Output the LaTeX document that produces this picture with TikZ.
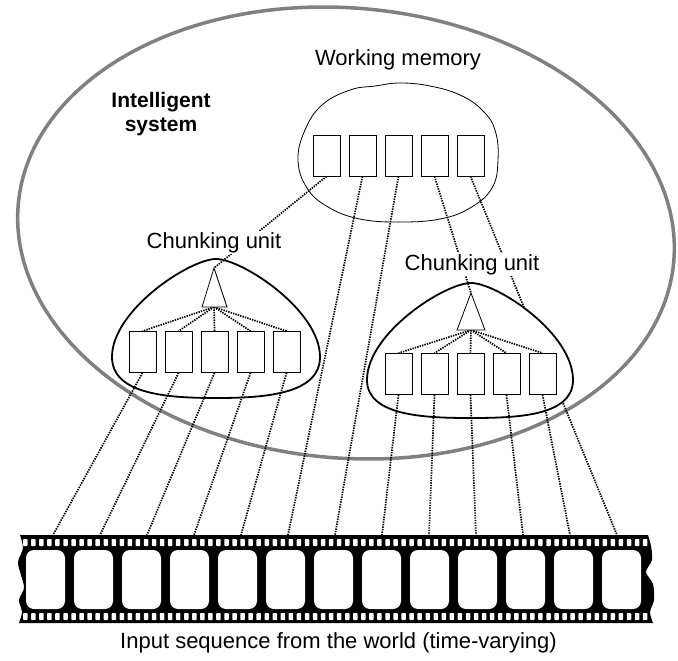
\documentclass[tikz,border=0pt]{standalone}
\usepackage{fontspec}
\setmainfont{Liberation Sans}
\usetikzlibrary{positioning}

\begin{document}
\begin{tikzpicture}[
    x=1pt, y=-1pt,
    node distance=8.2pt,
    cell/.style={rectangle, draw, fill=white, line width=0.8pt, minimum width=27pt, minimum height=41pt, inner sep=0pt},
    link/.style={line width=1.7pt, dash pattern=on 1.4pt off 1.1pt},
    caption/.style={font=\fontsize{22}{26}\selectfont, fill=white, inner sep=1pt, anchor=base}
]
    \useasboundingbox (0,0) rectangle (678,661);

    % Outer system
    \draw[gray, line width=3.5pt, rotate around={-5:(346,233)}] (346,233) ellipse [x radius=329, y radius=225];
    \node[font=\bfseries\fontsize{21}{23.5}\selectfont, align=center] (sys) at (161,114) {Intelligent\\system};

    % Frame anchors on the film strip
    \foreach \i in {1,...,13}
        \coordinate (f\i) at ({53+47*(\i-1)},535);

    % Working memory
    \draw[line width=0.8pt] plot[smooth cycle, tension=0.7] coordinates {
        (298,160) (305,130) (322,105) (350,90) (375,86) (400,83) (430,86) (460,95)
        (482,110) (495,130) (498,160) (492,188) (470,208) (440,219) (400,222)
        (360,219) (328,207) (307,188)};
    \node[cell] (wm1) at (326.5,155.5) {};
    \node[cell, right=of wm1] (wm2) {};
    \node[cell, right=of wm2] (wm3) {};
    \node[cell, right=of wm3] (wm4) {};
    \node[cell, right=of wm4] (wm5) {};

    % Link that runs behind the right chunking unit
    \draw[link] (wm5.south) -- (f13);

    % Chunking units
    \draw[line width=1.8pt, fill=white] (216,259) .. controls (190,259) and (112,310) .. (112,357)
        .. controls (112,395) and (170,398) .. (216,398)
        .. controls (262,398) and (320,395) .. (320,357)
        .. controls (320,310) and (242,259) .. (216,259) -- cycle;
    \draw[line width=1.8pt, fill=white] (471,283) .. controls (445,283) and (367,333) .. (367,380)
        .. controls (367,416) and (425,418) .. (471,418)
        .. controls (517,418) and (573,416) .. (573,380)
        .. controls (573,333) and (497,283) .. (471,283) -- cycle;

    \node[cell] (ca1) at (142.5,352) {};
    \node[cell, right=of ca1] (ca2) {};
    \node[cell, right=of ca2] (ca3) {};
    \node[cell, right=of ca3] (ca4) {};
    \node[cell, right=of ca4] (ca5) {};

    \node[cell] (cb1) at (398.5,374) {};
    \node[cell, right=of cb1] (cb2) {};
    \node[cell, right=of cb2] (cb3) {};
    \node[cell, right=of cb3] (cb4) {};
    \node[cell, right=of cb4] (cb5) {};

    \coordinate (catop) at (214,268);
    \coordinate (cabase) at (214,307);
    \coordinate (cbtop) at (471,293);
    \coordinate (cbbase) at (471,330);

    % Links
    \foreach \i in {1,...,5} {
        \draw[link] (cabase) -- (ca\i.north);
        \draw[link] (cbbase) -- (cb\i.north);
        \draw[link] (ca\i.south) -- (f\i);
    }
    \foreach \i/\j in {1/8, 2/9, 3/10, 4/11, 5/12}
        \draw[link] (cb\i.south) -- (f\j);
    \draw[link] (wm2.south) -- (f6);
    \draw[link] (wm3.south) -- (f7);
    \draw[link] (wm1.south) -- (catop);
    \draw[link] (wm4.south) -- (cbtop);

    \draw[line width=0.8pt, fill=white] (202,307) -- (catop) -- (227,307) -- cycle;
    \draw[line width=0.8pt, fill=white] (457,330) -- (cbtop) -- (485,330) -- cycle;

    % Labels
    \node[caption] (wmtext) at (398,66) {Working memory};
    \node[caption] (catext) at (214,248) {Chunking unit};
    \node[caption] (cbtext) at (472,270) {Chunking unit};

    % Film strip
    \fill[black] (20,535) -- (648,535) -- plot[smooth] coordinates {(648,535) (651,546) (652,560) (646,572) (653,584) (654,600) (650,612) (653,623)}
        -- (19,623) -- plot[smooth] coordinates {(19,623) (22,612) (19,600) (24,588) (21,575) (18,562) (23,548) (20,535)} -- cycle;
    \foreach \k in {0,...,77} {
        \fill[white, rounded corners=0.8pt] ({23+8.05*\k},539) rectangle ++(4.5,7);
        \fill[white, rounded corners=0.8pt] ({23+8.05*\k},613) rectangle ++(4.5,7);
    }
    \foreach \i in {1,...,13}
        \fill[white, rounded corners=8pt] ({26+48*(\i-1)},550) rectangle ++(39,59);

    \node[caption] (input) at (338.5,648) {Input sequence from the world (time-varying)};
\end{tikzpicture}
\end{document}
